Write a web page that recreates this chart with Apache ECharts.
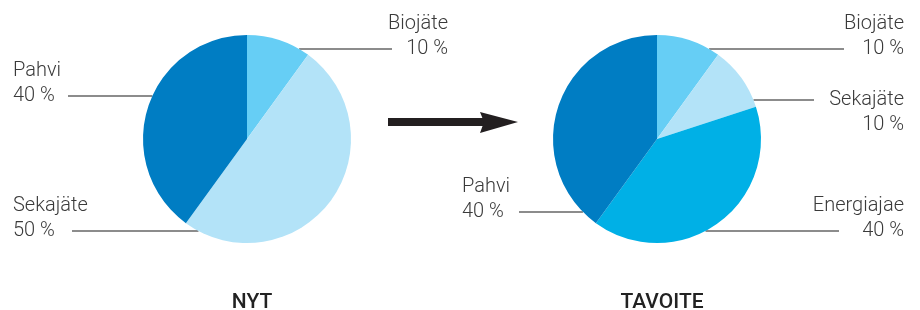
<!DOCTYPE html>
<html>
<head>
<meta charset="utf-8">
<script src="https://cdn.jsdelivr.net/npm/echarts@6/dist/echarts.min.js"></script>
<style>
  html, body { margin: 0; padding: 0; background: #fff; }
  #chart { width: 920px; height: 310px; }
</style>
</head>
<body>
<div id="chart"></div>
<script>
// data
var nytNames = ['Biojäte', 'Sekajäte', 'Pahvi'];
var nytValues = [10, 50, 40];
var tavoiteNames = ['Biojäte', 'Sekajäte', 'Energiajae', 'Pahvi'];
var tavoiteValues = [10, 10, 40, 40];
var titles = ['NYT', 'TAVOITE'];

var colorMap = {
    'Biojäte': '#66cef5',
    'Sekajäte': '#b3e3f8',
    'Pahvi': '#007dc3',
    'Energiajae': '#00b0e6'
};

var centers = [[247, 139], [657, 139]];
var R = 104;

// label placement: text anchor x, side, y of the leader line, which text row it sits on
var labelPos = [
    [
        { x: 448, align: 'right', lineY: 49, endX: 392, row: 2 },
        { x: 13, align: 'left', lineY: 231, endX: 72, row: 2 },
        { x: 13, align: 'left', lineY: 96, endX: 68, row: 2 }
    ],
    [
        { x: 904, align: 'right', lineY: 49, endX: 844, row: 2 },
        { x: 904, align: 'right', lineY: 100, endX: 814, row: 1 },
        { x: 904, align: 'right', lineY: 231, endX: 839, row: 2 },
        { x: 462, align: 'left', lineY: 212, endX: 519, row: 2 }
    ]
];
var LH = 25;

function toData(names, values) {
    return names.map(function (n, i) {
        return { name: n, value: values[i], itemStyle: { color: colorMap[n] } };
    });
}

function makePie(data, idx) {
    return {
        type: 'pie',
        center: centers[idx],
        radius: R,
        startAngle: 90,
        clockwise: true,
        silent: true,
        data: data,
        itemStyle: { borderWidth: 0 },
        label: {
            show: true,
            position: 'outside',
            formatter: '{b}\n{c} %',
            fontFamily: 'Roboto, "Noto Sans", sans-serif',
            fontWeight: 300,
            fontSize: 20,
            lineHeight: LH,
            color: '#3a3a3a'
        },
        labelLine: {
            show: true,
            lineStyle: { color: '#666', width: 1.5 }
        },
        labelLayout: function (params) {
            var p = labelPos[idx][params.dataIndex];
            var c = centers[idx];
            var dy = p.lineY - c[1];
            var dx = Math.sqrt(Math.max(R * R - dy * dy, 0));
            var edgeX = p.align === 'right' ? c[0] + dx : c[0] - dx;
            // line y belongs to text row 1 or 2 of the two-row block
            var midY = p.row === 2 ? p.lineY - LH / 2 : p.lineY + LH / 2;
            return {
                x: p.x,
                y: midY,
                align: p.align,
                verticalAlign: 'middle',
                labelLinePoints: [[edgeX, p.lineY], [(edgeX + p.endX) / 2, p.lineY], [p.endX, p.lineY]]
            };
        },
        emphasis: { disabled: true }
    };
}

var myChart = echarts.init(document.getElementById('chart'));
var option = {
    animation: false,
    title: titles.map(function (t, i) {
        return {
            text: t,
            left: centers[i][0],
            top: 287,
            textAlign: 'center',
            textStyle: {
                fontFamily: 'Roboto, "Noto Sans", sans-serif',
                fontWeight: 500,
                fontSize: 21,
                color: '#222'
            }
        };
    }),
    graphic: [
        {
            type: 'rect',
            shape: { x: 388, y: 118, width: 96, height: 8 },
            style: { fill: '#231f20' }
        },
        {
            type: 'polygon',
            shape: { points: [[480, 112], [518, 122], [480, 133], [484, 122]] },
            style: { fill: '#231f20' }
        }
    ],
    series: [
        makePie(toData(nytNames, nytValues), 0),
        makePie(toData(tavoiteNames, tavoiteValues), 1)
    ]
};
myChart.setOption(option);
</script>
</body>
</html>
